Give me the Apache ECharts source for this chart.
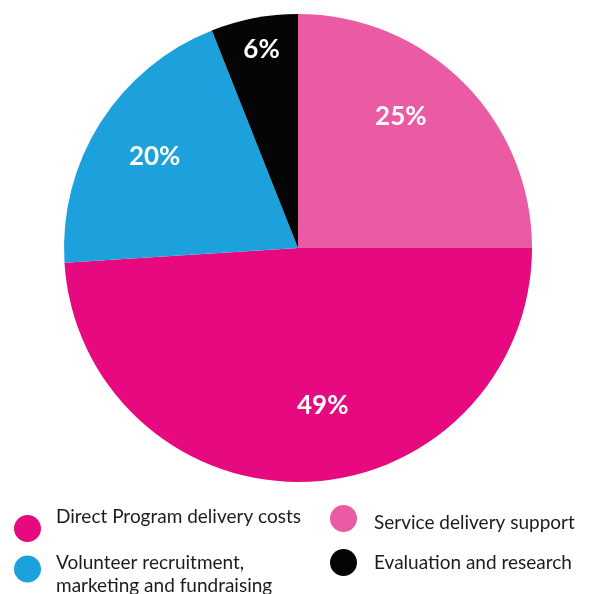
<!DOCTYPE html>
<html><head><meta charset="utf-8">
<script src="https://cdn.jsdelivr.net/npm/echarts@6/dist/echarts.min.js"></script>
<style>html,body{margin:0;padding:0;background:#fff}#c{width:597px;height:594px}</style>
</head><body><div id="c"></div>
<script>
const categories = ["Service delivery support", "Direct Program delivery costs", "Volunteer recruitment,\nmarketing and fundraising", "Evaluation and research"];
const values = [25, 49, 20, 6];
const colors = ["#EB5BA3", "#E6097F", "#1DA1DC", "#050505"];
const labelOffsets = [[18, -47], [21, 38], [-42, -27], [-14, -81]];

const chart = echarts.init(document.getElementById('c'));
const font = 'Lato, "Noto Sans", sans-serif';
const tok = { fontFamily: font, fontSize: 19, color: '#1c1c1c', lineHeight: 23 };
function mkLegend(name, left, top, padLeft, rich, fmt) {
  return {
    data: [name], left: left, top: top, orient: 'vertical',
    icon: 'circle', itemWidth: 27, itemHeight: 27, selectedMode: false,
    formatter: fmt,
    textStyle: Object.assign({}, tok, { padding: [0, 0, 0, padLeft], rich: rich })
  };
}
chart.setOption({
  animation: false,
  legend: [
    mkLegend(categories[1], 9, 502, 10,
      { t: Object.assign({}, tok, { padding: [0, 0, 24, 0] }) },
      n => '{t|' + n + '}'),
    mkLegend(categories[0], 325, 500, 12,
      { t: Object.assign({}, tok, { padding: [8, 0, 0, 0] }) },
      n => '{t|' + n + '}'),
    mkLegend(categories[2], 9, 541, 10,
      { a: Object.assign({}, tok, { lineHeight: 34 }), b: Object.assign({}, tok, { lineHeight: 12 }) },
      n => n.split('\n').map((s, i) => '{' + (i ? 'b' : 'a') + '|' + s + '}').join('\n')),
    mkLegend(categories[3], 325, 544, 12, {}, n => n)
  ],
  series: [{
    type: 'pie',
    center: [298, 248],
    radius: [0, 234],
    startAngle: 90,
    clockwise: true,
    data: categories.map((n, i) => ({
      name: n, value: values[i],
      itemStyle: { color: colors[i] },
      label: { offset: labelOffsets[i] }
    })),
    label: {
      position: 'inside', formatter: '{d}%', color: '#fff',
      fontFamily: font, fontSize: 26, fontWeight: 'bold'
    },
    labelLine: { show: false },
    emphasis: { disabled: true }
  }]
});
</script></body></html>
